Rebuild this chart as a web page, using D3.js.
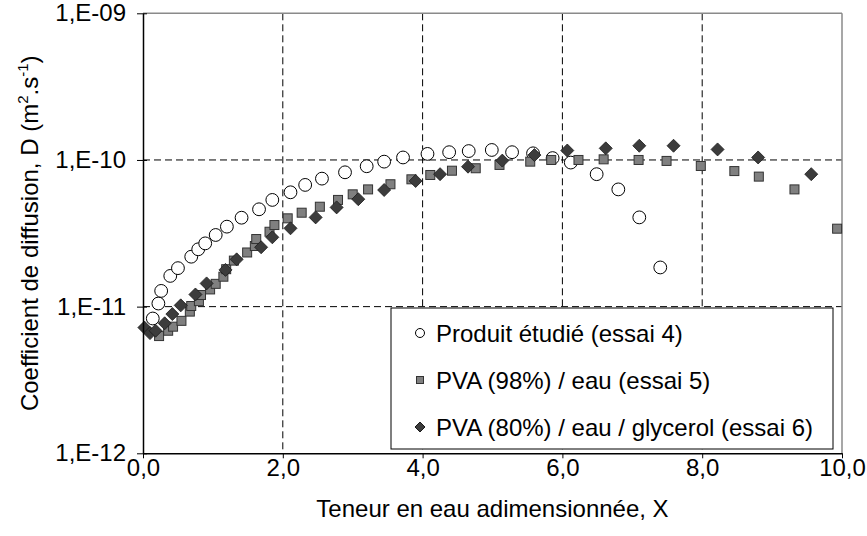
<!DOCTYPE html>
<html><head><meta charset="utf-8">
<script src="https://cdn.jsdelivr.net/npm/d3@7"></script>
<style>body{margin:0;background:#fff;} svg{display:block;} text{font-family:Arial,"Liberation Sans",sans-serif;fill:#000;}</style>
</head><body>
<svg id="chart" width="867" height="536"></svg>
<script>
const xTickValues = [0, 2, 4, 6, 8, 10];
const xTickLabels = ["0,0", "2,0", "4,0", "6,0", "8,0", "10,0"];
const yTickValues = [1e-12, 1e-11, 1e-10, 1e-9];
const yTickLabels = ["1,E-12", "1,E-11", "1,E-10", "1,E-09"];
const seriesNames = ["Produit étudié (essai 4)", "PVA (98%) / eau (essai 5)", "PVA (80%) / eau / glycerol (essai 6)"];

const s4X = [0.14,0.22,0.26,0.39,0.50,0.69,0.79,0.89,1.04,1.20,1.41,1.66,1.85,2.11,2.32,2.56,2.89,3.20,3.45,3.72,4.07,4.38,4.66,4.99,5.28,5.58,5.86,6.12,6.49,6.80,7.10,7.40];
const s4D = [8.3e-12,1.05e-11,1.28e-11,1.62e-11,1.83e-11,2.19e-11,2.46e-11,2.70e-11,3.08e-11,3.51e-11,4.04e-11,4.61e-11,5.34e-11,6.02e-11,6.76e-11,7.46e-11,8.24e-11,9.06e-11,9.74e-11,1.04e-10,1.10e-10,1.13e-10,1.15e-10,1.17e-10,1.13e-10,1.11e-10,1.03e-10,9.6e-11,8.0e-11,6.3e-11,4.06e-11,1.85e-11];

const s5X = [0.23,0.36,0.43,0.55,0.67,0.69,0.80,0.83,0.96,1.04,1.15,1.19,1.30,1.49,1.60,1.62,1.81,1.88,2.07,2.27,2.53,2.79,3.00,3.22,3.54,3.84,4.11,4.42,4.76,5.10,5.54,5.84,6.23,6.59,7.09,7.49,7.98,8.46,8.81,9.32,9.93];
const s5D = [6.3e-12,6.85e-12,7.3e-12,8.0e-12,9.25e-12,1.01e-11,1.09e-11,1.2e-11,1.31e-11,1.43e-11,1.60e-11,1.80e-11,2.06e-11,2.34e-11,2.59e-11,2.89e-11,3.24e-11,3.60e-11,4.0e-11,4.37e-11,4.8e-11,5.34e-11,5.83e-11,6.3e-11,6.83e-11,7.38e-11,7.9e-11,8.45e-11,8.78e-11,9.25e-11,9.74e-11,1.0e-10,1.0e-10,1.01e-10,1.0e-10,9.85e-11,9.1e-11,8.4e-11,7.7e-11,6.3e-11,3.4e-11];

const s6X = [0.02,0.10,0.18,0.31,0.42,0.54,0.75,0.91,1.18,1.34,1.69,1.85,2.11,2.47,2.77,3.08,3.45,3.90,4.25,4.65,5.14,5.60,6.07,6.62,7.10,7.59,8.22,8.80,9.56];
const s6D = [7.2e-12,6.6e-12,6.85e-12,7.7e-12,8.9e-12,1.02e-11,1.21e-11,1.44e-11,1.78e-11,2.10e-11,2.54e-11,2.97e-11,3.42e-11,4.06e-11,4.75e-11,5.4e-11,6.24e-11,7.19e-11,8.0e-11,9.0e-11,9.9e-11,1.08e-10,1.16e-10,1.20e-10,1.25e-10,1.25e-10,1.18e-10,1.04e-10,8.0e-11];

const svg = d3.select("#chart");
const L = 143, R = 842, T = 13.3, B = 453.3;
const x = d3.scaleLinear().domain([0, 10]).range([L, R]);
const y = d3.scaleLog().domain([1e-12, 1e-9]).range([B, T]);
const FS = 24;
const FF = "Arial, 'Liberation Sans', sans-serif";

// grid
const g = svg.append("g");
g.selectAll("line.vx").data(xTickValues.slice(1, -1)).join("line")
  .attr("x1", d => x(d)).attr("x2", d => x(d)).attr("y1", T).attr("y2", B)
  .attr("stroke", "#000").attr("stroke-width", 1).attr("stroke-dasharray", "7,4");
g.selectAll("line.hy").data(yTickValues.slice(1, -1)).join("line")
  .attr("x1", L).attr("x2", R).attr("y1", d => y(d)).attr("y2", d => y(d))
  .attr("stroke", "#000").attr("stroke-width", 1).attr("stroke-dasharray", "7,4");
// top/right border
svg.append("line").attr("x1", L).attr("x2", R).attr("y1", T).attr("y2", T).attr("stroke", "#8a8a8a").attr("stroke-width", 1.5);
svg.append("line").attr("x1", R).attr("x2", R).attr("y1", T).attr("y2", B).attr("stroke", "#8a8a8a").attr("stroke-width", 1.5);

// data
const pts = (xs, ds) => xs.map((v, i) => ({x: v, d: ds[i]}));
const dg = svg.append("g");
dg.selectAll("circle").data(pts(s4X, s4D)).join("circle")
  .attr("cx", p => x(p.x)).attr("cy", p => y(p.d)).attr("r", 6.4)
  .attr("fill", "#fff").attr("stroke", "#000").attr("stroke-width", 1);
dg.selectAll("rect").data(pts(s5X, s5D)).join("rect")
  .attr("x", p => x(p.x) - 4.5).attr("y", p => y(p.d) - 4.5).attr("width", 9).attr("height", 9)
  .attr("fill", "#808080").attr("stroke", "#333").attr("stroke-width", 1);
dg.selectAll("path.dia").data(pts(s6X, s6D)).join("path").attr("class", "dia")
  .attr("d", p => `M${x(p.x)},${y(p.d) - 6.5}L${x(p.x) + 6.5},${y(p.d)}L${x(p.x)},${y(p.d) + 6.5}L${x(p.x) - 6.5},${y(p.d)}Z`)
  .attr("fill", "#3c3c3c").attr("stroke", "#1a1a1a").attr("stroke-width", 0.8);

// axes
const xAxis = d3.axisBottom(x).tickValues(xTickValues).tickSize(5).tickSizeOuter(0)
  .tickFormat((d, i) => xTickLabels[i]);
const xa = svg.append("g").attr("transform", `translate(0,${B})`).call(xAxis);
xa.select(".domain").attr("stroke", "#000").attr("stroke-width", 1.5);
xa.selectAll(".tick line").attr("stroke", "#000");
xa.selectAll(".tick text").attr("font-size", FS).attr("font-family", FF).attr("dy", null).attr("y", 23);

const yAxis = d3.axisLeft(y).tickValues(yTickValues).tickSize(6).tickSizeOuter(0)
  .tickFormat((d, i) => yTickLabels[i]);
const ya = svg.append("g").attr("transform", `translate(${L},0)`).call(yAxis);
ya.select(".domain").attr("stroke", "#000").attr("stroke-width", 1.5);
ya.selectAll(".tick line").attr("stroke", "#000").attr("x2", -6).attr("x1", 4);
ya.selectAll(".tick text").attr("font-size", FS).attr("font-family", FF).attr("x", -17);

// axis titles
svg.append("text").attr("x", (L + R) / 2).attr("y", 517).attr("text-anchor", "middle").attr("font-size", FS)
  .text("Teneur en eau adimensionnée, X");
const yt = svg.append("text").attr("transform", `translate(38,${(T + B) / 2}) rotate(-90)`).attr("text-anchor", "middle").attr("font-size", FS);
yt.append("tspan").text("Coefficient de diffusion, D (m");
yt.append("tspan").attr("font-size", 15).attr("dy", -10).text("2");
yt.append("tspan").attr("dy", 10).text(".s");
yt.append("tspan").attr("font-size", 15).attr("dy", -10).text("-1");
yt.append("tspan").attr("dy", 10).text(")");

// legend
const lg = svg.append("g");
lg.append("rect").attr("x", 391).attr("y", 308).attr("width", 442).attr("height", 141)
  .attr("fill", "#fff").attr("stroke", "#000").attr("stroke-width", 1);
const rowY = [333, 380, 427];
lg.append("circle").attr("cx", 420).attr("cy", rowY[0]).attr("r", 4.5).attr("fill", "#fff").attr("stroke", "#000");
lg.append("rect").attr("x", 416.5).attr("y", rowY[1] - 3.5).attr("width", 7).attr("height", 7).attr("fill", "#808080").attr("stroke", "#333");
lg.append("path").attr("d", `M420,${rowY[2] - 5}L425,${rowY[2]}L420,${rowY[2] + 5}L415,${rowY[2]}Z`).attr("fill", "#3c3c3c").attr("stroke", "#1a1a1a");
lg.selectAll("text").data(seriesNames).join("text")
  .attr("x", 436).attr("y", (d, i) => rowY[i] + 8.5).attr("font-size", FS).text(d => d);
</script>
</body></html>
